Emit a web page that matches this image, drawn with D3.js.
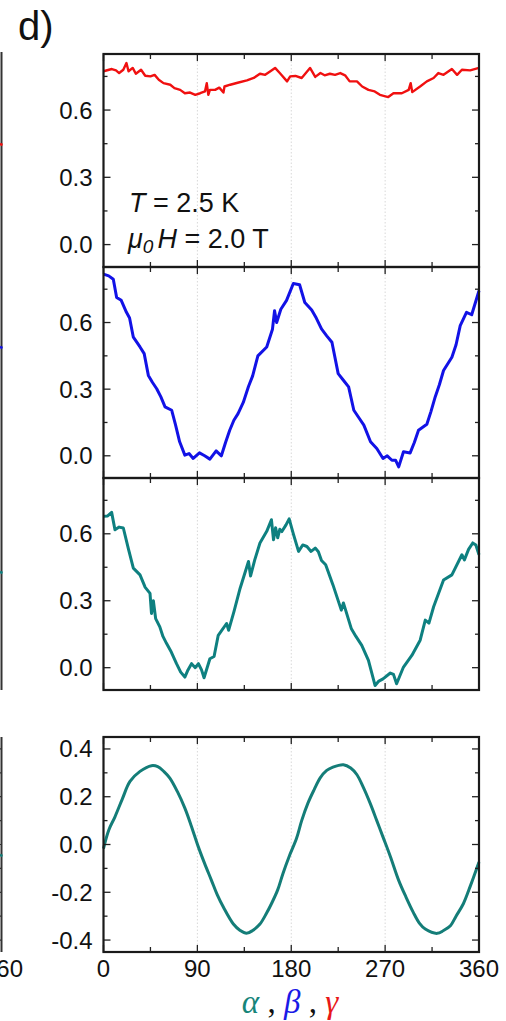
<!DOCTYPE html>
<meta charset="utf-8">
<script src="https://d3js.org/d3.v7.min.js"></script>
<style>
	body{
		margin:0;
		background:#fff;
		font-family:'Liberation Sans', Arial, sans-serif;
	}
</style>
<div id="chart"></div>
<script>

// ---- data (angle in degrees, normalised value) ----
var redAngle = [0,8,12,15,19,22,24,28,31,36,40,45,49,53,57.5,64,68,73.5,78,83,88,92.7,97.3,99,100.5,102,107,111,115,116,121.5,129.5,137.5,144,150,155,160,164.5,169,176,179,184,190,194,198,203,208,212,217,222,227,231.6,236,243,248,254,260,265,273,278,286,292.6,294.5,296,303.5,310,316.5,321,326,334,339,343.6,351.5,360]
var redVal = [0.773,0.783,0.777,0.765,0.78,0.81,0.773,0.788,0.762,0.78,0.753,0.75,0.757,0.735,0.72,0.713,0.698,0.69,0.675,0.678,0.668,0.675,0.683,0.72,0.668,0.69,0.69,0.70,0.678,0.705,0.713,0.723,0.732,0.743,0.762,0.757,0.773,0.788,0.765,0.728,0.75,0.752,0.743,0.765,0.788,0.748,0.765,0.755,0.762,0.757,0.765,0.755,0.728,0.728,0.705,0.69,0.683,0.668,0.658,0.675,0.675,0.69,0.72,0.68,0.705,0.728,0.743,0.765,0.757,0.783,0.757,0.78,0.777,0.788]

var blueAngle = [0,5,9.4,12.6,17,22,25,28.6,35,39,43,47,51,55,59,65.4,69,73,78,82,86,92,97,102,108,113,117,121,125,129,134,139,143,148,156.5,162,164,166,170,175.5,182,188,193,199.6,204,209,214,219,225,230,235,240,245,249.6,256,262,268,272,276.5,280,283,287.6,294,298,302,310,314,318,322,326,334,338,342,348,353,360]
var blueVal = [0.818,0.81,0.795,0.713,0.70,0.646,0.62,0.534,0.49,0.46,0.362,0.33,0.302,0.265,0.22,0.205,0.14,0.063,0.003,0.01,-0.012,0.013,0.0,-0.015,0.022,0.0,0.06,0.115,0.16,0.19,0.24,0.312,0.36,0.45,0.49,0.57,0.653,0.60,0.66,0.70,0.776,0.77,0.69,0.656,0.62,0.571,0.54,0.511,0.37,0.34,0.31,0.205,0.17,0.138,0.063,0.033,-0.012,0.0,-0.02,-0.02,-0.05,0.018,0.013,0.06,0.115,0.142,0.20,0.265,0.32,0.384,0.444,0.50,0.586,0.646,0.635,0.743]

var tealAngle = [0,4,7.8,11,15,19,24,28.6,35,40,44.6,46,47.8,50,54,57,60.5,65,70,74,78,81,84.4,88,91,94,96.4,102,106,110,118,120,125,131,139,141,145,150,156.5,161,163,165,167,169,171,175,178,182,187,191,195,199,203,206,209,213,220,228,230,232,237.5,242,247.6,254,260.4,264,268,275,278,281,287.6,295.6,303.6,308.5,312,316.5,326,334,343.6,346,350,354,357,360]
var tealVal = [0.678,0.68,0.696,0.618,0.63,0.626,0.53,0.446,0.416,0.36,0.333,0.243,0.30,0.22,0.183,0.14,0.108,0.07,0.018,-0.02,-0.042,-0.01,0.018,0.0,0.018,-0.01,-0.045,0.04,0.05,0.145,0.198,0.168,0.25,0.356,0.476,0.411,0.483,0.559,0.611,0.663,0.573,0.627,0.582,0.62,0.61,0.64,0.667,0.60,0.521,0.55,0.543,0.521,0.536,0.52,0.48,0.461,0.371,0.258,0.29,0.26,0.176,0.14,0.1,0.033,-0.08,-0.06,-0.05,-0.024,-0.03,-0.072,0.003,0.055,0.123,0.213,0.20,0.273,0.393,0.416,0.506,0.483,0.53,0.559,0.55,0.506]

var fitAngle = [0,5,11,18,25.4,35,46,52,58,63.6,71,78,84,91,97,103.5,109,115,124.5,131,137,143,150,156,161,167,172,178,185,190,196,202,207.6,214,220,230,237,243,249,255.6,262,268,275,283,290,297,303,308.5,320,326,332.6,338,345,352,360]
var fitVal = [-0.017,0.06,0.116,0.19,0.264,0.306,0.33,0.326,0.305,0.278,0.22,0.152,0.08,-0.011,-0.08,-0.15,-0.21,-0.263,-0.333,-0.36,-0.372,-0.36,-0.333,-0.29,-0.248,-0.19,-0.122,-0.05,0.025,0.1,0.173,0.23,0.278,0.31,0.324,0.334,0.32,0.292,0.24,0.173,0.1,0.031,-0.05,-0.15,-0.22,-0.284,-0.33,-0.354,-0.372,-0.36,-0.34,-0.3,-0.248,-0.17,-0.073]

var xTicks = [0,90,180,270,360]
var yTicksTop = [0,0.3,0.6]
var yTicksFit = [-0.4,-0.2,0,0.2,0.4]

var panels = [
	{top:54, bottom:267, domain:[-0.1,0.85], ticks:yTicksTop, minor:0.15, angle:redAngle, val:redVal, color:"#f01010", width:2.4},
	{top:267, bottom:478, domain:[-0.1,0.85], ticks:yTicksTop, minor:0.15, angle:blueAngle, val:blueVal, color:"#1212e6", width:3},
	{top:478, bottom:690, domain:[-0.1,0.85], ticks:yTicksTop, minor:0.15, angle:tealAngle, val:tealVal, color:"#0e8080", width:3},
	{top:737, bottom:952, domain:[-0.45,0.45], ticks:yTicksFit, minor:0.1, angle:fitAngle, val:fitVal, color:"#147d78", width:3, smooth:true}
]

var w = 506, h = 1021
var left = 103.5, right = 479

var svg = d3.select("#chart").append("svg").attr("width",w).attr("height",h)

var x = d3.scaleLinear().domain([0,360]).range([left,right])

svg.append("text").text("d)").attr("x",18).attr("y",40).style("font-size","40px").attr("fill","#111")

// partial neighbour panel cut off at the left edge
svg.append("line").attr("x1",1.5).attr("x2",1.5).attr("y1",52).attr("y2",690).attr("stroke","#333").attr("stroke-width",2)
svg.append("line").attr("x1",1.5).attr("x2",1.5).attr("y1",737).attr("y2",952).attr("stroke","#333").attr("stroke-width",2)
var leftBits = [[144,"#f01010"],[347,"#1212e6"],[572,"#0e8080"],[855,"#147d78"]]
leftBits.forEach(function(b){
	svg.append("line").attr("x1",0).attr("x2",2.5).attr("y1",b[0]).attr("y2",b[0]+1).attr("stroke",b[1]).attr("stroke-width",2.5)
})
var yLeft = d3.scaleLinear().domain([-0.45,0.45]).range([952,737])
d3.range(-0.4,0.41,0.1).forEach(function(t){
	svg.append("line").attr("x1",2).attr("x2",-4).attr("y1",yLeft(t)).attr("y2",yLeft(t)).attr("stroke","#333").attr("stroke-width",1.2)
})
svg.append("text").text("360").attr("x",3).attr("y",977).attr("text-anchor","middle").style("font-size","24px").attr("fill","#111")

panels.forEach(function(p,pi){
	var y = d3.scaleLinear().domain(p.domain).range([p.bottom,p.top])
	var g = svg.append("g")

	// dotted grid at 90/180/270
	g.selectAll(".grid").data([90,180,270]).enter().append("line")
		.attr("x1",function(d){return x(d)}).attr("x2",function(d){return x(d)})
		.attr("y1",p.top).attr("y2",p.bottom)
		.attr("stroke","#d8d8d8").attr("stroke-width",1).attr("stroke-dasharray","1.5,2")

	var pts = p.angle.map(function(a,i){return [a,p.val[i]]})
	var line = d3.line().x(function(d){return x(d[0])}).y(function(d){return y(d[1])})
	if(p.smooth){ line.curve(d3.curveCatmullRom) }
	g.append("path").datum(pts).attr("d",line)
		.attr("fill","none").attr("stroke",p.color).attr("stroke-width",p.width)
		.attr("stroke-linejoin","round")

	// inward ticks on all four sides
	var yMinor = []
	for(var v=Math.ceil(p.domain[0]/p.minor)*p.minor; v<=p.domain[1]+1e-9; v+=p.minor){ yMinor.push(+v.toFixed(4)) }
	yMinor.forEach(function(v){
		var major = p.ticks.some(function(t){return Math.abs(t-v)<1e-6})
		var len = major ? 7 : 4
		g.append("line").attr("x1",left).attr("x2",left+len).attr("y1",y(v)).attr("y2",y(v)).attr("stroke","#222").attr("stroke-width",1.3)
		g.append("line").attr("x1",right).attr("x2",right-len).attr("y1",y(v)).attr("y2",y(v)).attr("stroke","#222").attr("stroke-width",1.3)
	})
	d3.range(0,361,45).forEach(function(a){
		var major = a%90==0
		var len = major ? 7 : 5
		g.append("line").attr("x1",x(a)).attr("x2",x(a)).attr("y1",p.top).attr("y2",p.top+len).attr("stroke","#222").attr("stroke-width",1.3)
		g.append("line").attr("x1",x(a)).attr("x2",x(a)).attr("y1",p.bottom).attr("y2",p.bottom-len).attr("stroke","#222").attr("stroke-width",1.3)
	})

	g.selectAll(".ylab").data(p.ticks).enter().append("text")
		.attr("x",left-11).attr("y",function(d){return y(d)+8.5})
		.attr("text-anchor","end").style("font-size","24px").attr("fill","#111")
		.text(function(d){return d3.format(".1f")(d).replace("−","-")})

	g.append("rect").attr("x",left).attr("y",p.top).attr("width",right-left).attr("height",p.bottom-p.top)
		.attr("fill","none").attr("stroke","#1a1a1a").attr("stroke-width",2.2)
})

// x tick labels on the bottom panel
svg.selectAll(".xlab").data(xTicks).enter().append("text")
	.attr("x",function(d){return x(d)}).attr("y",977)
	.attr("text-anchor","middle").style("font-size","24px").attr("fill","#111")
	.text(function(d){return d})

// annotation
var ann = svg.append("text").attr("x",129).attr("y",212).style("font-size","27px").attr("fill","#111")
ann.append("tspan").text("T").style("font-style","italic")
ann.append("tspan").text(" = 2.5 K")
var ann2 = svg.append("text").attr("x",128).attr("y",248).style("font-size","27px").attr("fill","#111")
ann2.append("tspan").text("μ").style("font-style","italic")
ann2.append("tspan").text("0").style("font-style","italic").style("font-size","19px").attr("dy",5)
ann2.append("tspan").text("H").style("font-style","italic").attr("dy",-5).attr("dx",4)
ann2.append("tspan").text(" = 2.0 T")

// x-axis label
var xl = svg.append("text").attr("x",290).attr("y",1013).attr("text-anchor","middle")
	.style("font-family","'Liberation Serif', 'Times New Roman', serif").style("font-size","33px")
xl.append("tspan").text("α").attr("fill","#17857a").style("font-style","italic")
xl.append("tspan").text(" , ").attr("fill","#111")
xl.append("tspan").text("β").attr("fill","#1a1ae6").style("font-style","italic")
xl.append("tspan").text(" , ").attr("fill","#111")
xl.append("tspan").text("γ").attr("fill","#e81818").style("font-style","italic")

</script>
